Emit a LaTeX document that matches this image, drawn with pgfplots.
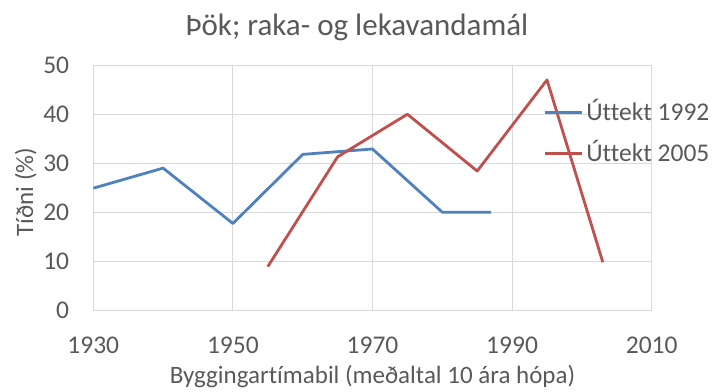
\documentclass[border=0pt]{standalone}
\usepackage{fontspec}
\setmainfont{Carlito}[Ligatures={NoCommon}]
\usepackage{pgfplots}
\pgfplotsset{compat=1.18}
\definecolor{txt}{HTML}{595959}
\definecolor{grd}{HTML}{D9D9D9}
\definecolor{axc}{HTML}{BFBFBF}
\definecolor{blu}{HTML}{4F81BD}
\definecolor{rd}{HTML}{C0504D}
\begin{document}
\begin{tikzpicture}
\useasboundingbox (0,0) rectangle (713bp,392bp);
\begin{axis}[
  at={(93.3bp,81.3bp)}, anchor=south west,
  scale only axis, width=558.4bp, height=245bp,
  xmin=1930, xmax=2010, ymin=0, ymax=50,
  xtick={1930,1950,1970,1990,2010}, ytick={0,10,20,30,40,50},
  /pgf/number format/1000 sep={},
  /pgf/number format/assume math mode=true,
  major tick length=0pt,
  xmajorgrids, ymajorgrids,
  grid style={draw=grd, line width=1bp},
  axis line style={draw=grd, line width=1bp},
  tick label style={font=\fontsize{25.5bp}{30bp}\selectfont, text=txt},
  xticklabel style={anchor=north, inner sep=0pt, yshift=-26bp},
  yticklabel style={anchor=east, inner sep=0pt, xshift=-24bp},
  title={Þök; raka- og lekavandamál},
  title style={at={(0.472,1.1008)}, anchor=base, inner sep=0pt, font=\fontsize{31bp}{36bp}\selectfont, text=txt},
  xlabel={Byggingartímabil (meðaltal 10 ára hópa)},
  xlabel style={at={(0.5,-0.299)}, anchor=base, inner sep=0pt, font=\fontsize{25bp}{30bp}\selectfont, text=txt},
  ylabel={Tíðni (\%)},
  ylabel style={at={(-0.121,0.4845)}, anchor=center, inner sep=0pt, font=\fontsize{25bp}{30bp}\selectfont, text=txt},
  legend style={at={(0.806,0.841)}, anchor=north west, draw=none, fill=none, inner sep=0pt,
    row sep=25bp, column sep=3bp,
    nodes={inner sep=0pt, text height=16bp, text depth=0pt, font=\fontsize{25.5bp}{30bp}\selectfont, text=txt},
    cells={anchor=west}},
  legend image code/.code={\draw[#1] (0bp,0bp) -- (37bp,0bp);},
  every axis plot/.append style={line width=2.8bp, line join=round},
]
\addplot[color=blu] coordinates {(1930,25.0) (1940,29.1) (1950,17.8) (1960,31.9) (1970,33.0) (1980,20.1) (1987,20.1)};
\addlegendentry{Úttekt 1992}
\addplot[color=rd] coordinates {(1955,9.0) (1965,31.4) (1975,40.1) (1985,28.5) (1995,47.1) (2003,9.9)};
\addlegendentry{Úttekt 2005}
\end{axis}
\end{tikzpicture}
\end{document}
